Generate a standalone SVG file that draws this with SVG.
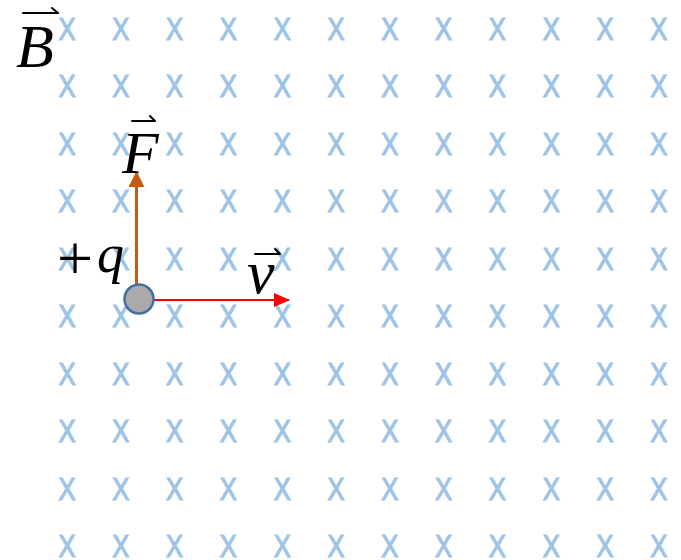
<svg xmlns="http://www.w3.org/2000/svg" width="681" height="560" viewBox="0 0 681 560">
<style>
.bx{font-family:"Liberation Sans",Arial,sans-serif;font-size:32px;fill:#9DC3E6;stroke:#9DC3E6;stroke-width:1.2px;text-anchor:middle}
.m{font-family:"Liberation Serif","Times New Roman",serif;font-style:italic;fill:#000}
.acc{fill:none;stroke:#000;stroke-width:2;stroke-linecap:round;stroke-linejoin:round}
</style>
<defs>
<marker id="ahO" markerUnits="userSpaceOnUse" markerWidth="16" markerHeight="16" refX="15" refY="8" orient="auto"><path d="M0,0 L16,8 L0,16 Z" fill="#C55A11"/></marker>
<marker id="ahR" markerUnits="userSpaceOnUse" markerWidth="16" markerHeight="14" refX="15" refY="7" orient="auto"><path d="M0,0 L16,7 L0,14 Z" fill="#FF0000"/></marker>
</defs>
<rect width="681" height="560" fill="#fff"/>
<g id="field" transform="scale(0.8 1)">
<text class="bx" x="83.75 151 218.25 285.5 352.75 420 487.25 554.5 621.75 689 756.25 823.5" y="40">XXXXXXXXXXXX</text>
<text class="bx" x="83.75 151 218.25 285.5 352.75 420 487.25 554.5 621.75 689 756.25 823.5" y="97.5">XXXXXXXXXXXX</text>
<text class="bx" x="83.75 151 218.25 285.5 352.75 420 487.25 554.5 621.75 689 756.25 823.5" y="155">XXXXXXXXXXXX</text>
<text class="bx" x="83.75 151 218.25 285.5 352.75 420 487.25 554.5 621.75 689 756.25 823.5" y="212.5">XXXXXXXXXXXX</text>
<text class="bx" x="83.75 151 218.25 285.5 352.75 420 487.25 554.5 621.75 689 756.25 823.5" y="270">XXXXXXXXXXXX</text>
<text class="bx" x="83.75 151 218.25 285.5 352.75 420 487.25 554.5 621.75 689 756.25 823.5" y="327.5">XXXXXXXXXXXX</text>
<text class="bx" x="83.75 151 218.25 285.5 352.75 420 487.25 554.5 621.75 689 756.25 823.5" y="385">XXXXXXXXXXXX</text>
<text class="bx" x="83.75 151 218.25 285.5 352.75 420 487.25 554.5 621.75 689 756.25 823.5" y="442.5">XXXXXXXXXXXX</text>
<text class="bx" x="83.75 151 218.25 285.5 352.75 420 487.25 554.5 621.75 689 756.25 823.5" y="500">XXXXXXXXXXXX</text>
<text class="bx" x="83.75 151 218.25 285.5 352.75 420 487.25 554.5 621.75 689 756.25 823.5" y="557.5">XXXXXXXXXXXX</text>
</g>
<g id="label-B">
<text class="m" x="16" y="67" font-size="62">B</text>
<path class="acc" d="M23,13 H58 M52,8 L58,13"/>
</g>
<g id="connectors">
<line x1="136.5" y1="284" x2="136.5" y2="172" stroke="#C55A11" stroke-width="3" marker-end="url(#ahO)"/>
<line x1="154" y1="300" x2="289" y2="300" stroke="#FF0000" stroke-width="2" marker-end="url(#ahR)"/>
</g>
<g id="charge">
<circle cx="139" cy="299" r="14.5" fill="#ABA9A9" stroke="#41719C" stroke-width="2.5"/>
<text x="57" y="280" font-size="64" font-family="'Liberation Serif','Times New Roman',serif" fill="#000">+</text>
<text class="m" x="97" y="272" font-size="54">q</text>
</g>
<g id="label-F">
<text class="m" x="122" y="173" font-size="60">F</text>
<path class="acc" d="M132,121 H155 M150,116 L155,121"/>
</g>
<g id="label-v">
<text class="m" x="247" y="293" font-size="62">v</text>
<path class="acc" d="M255,254 H280 M275,249 L280,254"/>
</g>
</svg>
